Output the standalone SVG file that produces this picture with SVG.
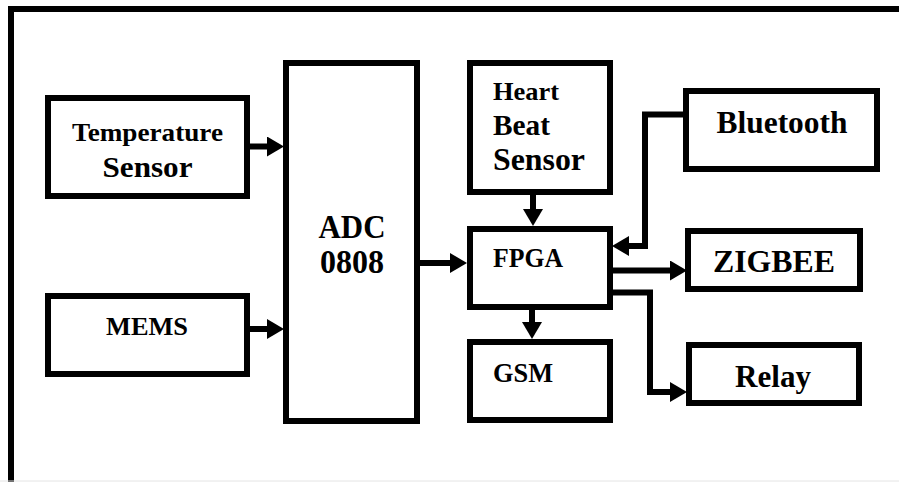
<svg xmlns="http://www.w3.org/2000/svg" width="899" height="482" viewBox="0 0 899 482">
<style>
.box{fill:#fff;stroke:#000;stroke-width:6}
.t{font-family:"Liberation Serif","Times New Roman",serif;font-weight:bold;fill:#000}
.c{text-anchor:middle}
.w{fill:none;stroke:#000;stroke-width:6;stroke-linejoin:miter}
</style>
<defs>
<marker id="ah" markerUnits="userSpaceOnUse" markerWidth="18" markerHeight="20" refX="0" refY="10" orient="auto" viewBox="0 0 18 20">
<path d="M0,0 L17,10 L0,20 z" fill="#000"/>
</marker>
</defs>
<rect x="0" y="0" width="899" height="482" fill="#fff"/>
<g id="frame">
<path d="M11,482 V9 H899" fill="none" stroke="#000" stroke-width="6"/>
<line x1="0" y1="481" x2="899" y2="481" stroke="#e4e4e4" stroke-width="1"/>
</g>
<g id="temperature">
<rect class="box" x="48" y="98" width="199" height="98"/>
<text class="t c" x="147.5" y="141" font-size="26" textLength="151" lengthAdjust="spacingAndGlyphs">Temperature</text>
<text class="t c" x="147.5" y="177" font-size="30" textLength="90" lengthAdjust="spacingAndGlyphs">Sensor</text>
</g>
<g id="mems">
<rect class="box" x="48" y="296" width="199" height="78"/>
<text class="t c" x="147" y="335" font-size="26" textLength="82" lengthAdjust="spacingAndGlyphs">MEMS</text>
</g>
<g id="adc">
<rect class="box" x="286" y="63" width="131" height="358"/>
<text class="t c" x="352" y="238" font-size="33" textLength="67" lengthAdjust="spacingAndGlyphs">ADC</text>
<text class="t c" x="352" y="273" font-size="33" textLength="64" lengthAdjust="spacingAndGlyphs">0808</text>
</g>
<g id="heartbeat">
<rect class="box" x="470" y="63" width="140" height="129"/>
<text class="t" x="493" y="100" font-size="26" textLength="66" lengthAdjust="spacingAndGlyphs">Heart</text>
<text class="t" x="493" y="135" font-size="30" textLength="57" lengthAdjust="spacingAndGlyphs">Beat</text>
<text class="t" x="493" y="170" font-size="31" textLength="92" lengthAdjust="spacingAndGlyphs">Sensor</text>
</g>
<g id="fpga">
<rect class="box" x="470" y="229" width="140" height="78"/>
<text class="t" x="493" y="267" font-size="27" textLength="70" lengthAdjust="spacingAndGlyphs">FPGA</text>
</g>
<g id="gsm">
<rect class="box" x="470" y="342" width="140" height="78"/>
<text class="t" x="493" y="382" font-size="27" textLength="60" lengthAdjust="spacingAndGlyphs">GSM</text>
</g>
<g id="bluetooth">
<rect class="box" x="686" y="91" width="191" height="78"/>
<text class="t c" x="782" y="133" font-size="31" textLength="131" lengthAdjust="spacingAndGlyphs">Bluetooth</text>
</g>
<g id="zigbee">
<rect class="box" x="688" y="231" width="172" height="58"/>
<text class="t c" x="774" y="272" font-size="31" textLength="122" lengthAdjust="spacingAndGlyphs">ZIGBEE</text>
</g>
<g id="relay">
<rect class="box" x="689" y="345" width="170" height="58"/>
<text class="t c" x="773" y="387" font-size="31" textLength="76" lengthAdjust="spacingAndGlyphs">Relay</text>
</g>
<g id="connectors">
<path class="w" d="M250,146.5 H267" marker-end="url(#ah)"/>
<path class="w" d="M250,329 H267" marker-end="url(#ah)"/>
<path class="w" d="M420,263 H450" marker-end="url(#ah)"/>
<path class="w" d="M533,195 V209" marker-end="url(#ah)"/>
<path class="w" d="M683,114.5 H645 V246 H629" marker-end="url(#ah)"/>
<path class="w" d="M613,270.5 H670" marker-end="url(#ah)"/>
<path class="w" d="M613,292.5 H650 V392 H670" marker-end="url(#ah)"/>
<path class="w" d="M532,310 V322" marker-end="url(#ah)"/>
</g>
</svg>
